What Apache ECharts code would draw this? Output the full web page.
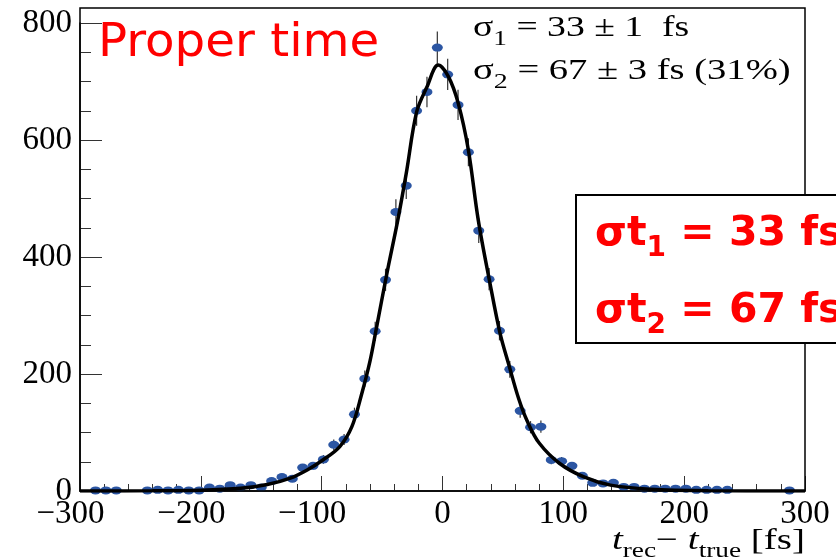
<!DOCTYPE html>
<html><head><meta charset="utf-8">
<script src="https://cdn.jsdelivr.net/npm/echarts@6/dist/echarts.min.js"></script>
<style>html,body{margin:0;padding:0;background:#fff}#c{width:836px;height:560px}</style>
</head><body><div id="c"></div>
<script>
// Histogram definition (70 bins from -300 to 300 fs)
const HIST_MIN = -300, HIST_MAX = 300, N_BINS = 70;
// Bin contents (null = empty bin, no marker drawn)
const counts = [
  null, 1, 1, 1, null, null, 1, 2, 1, 2,
  1, 1, 6, 4, 10, 6, 10, 6, 17, 24,
  21, 40, 43, 54, 79, 88, 131, 192, 273, 361,
  477, 522, 650, 682, 758, 712, 660, 579, 445, 362,
  274, 208, 137, 109, 110, 53, 51, 43, 26, 14,
  13, 14, 7, 7, 4, 4, 4, 4, 4, 2,
  2, 2, 2, null, null, null, null, null, 1, null
];
// Fit curve samples
const fitX = [-300, -240, -200, -167, -145, -126, -112, -99, -85, -75, -67, -60, -55, -46, -37, -30, -21.4, -13, -3.5, 5, 13, 21.4, 29.6, 39.3, 47.6, 55, 63, 70, 80, 97, 117, 139, 172, 220, 300];
const fitY = [0, 0.3, 1.2, 4.5, 11, 22, 36, 53, 76, 110, 165, 222, 275, 372, 463, 543, 648, 690, 728, 708, 663, 583, 463, 355, 270, 215, 158, 120, 82, 47, 24, 10, 3, 0.5, 0];
// Axis tick labels
const xTicks = [-300, -200, -100, 0, 100, 200, 300];
const yTicks = [0, 200, 400, 600, 800];

const binW = (HIST_MAX - HIST_MIN) / N_BINS;
const points = [];
counts.forEach((c, i) => { if (c !== null) points.push([HIST_MIN + binW * (i + 0.5), c]); });
const fitData = fitX.map((x, i) => [x, fitY[i]]);

const mctx = document.createElement('canvas').getContext('2d');
function fontStr(p) {
  return (p.italic ? 'italic ' : '') + (p.bold ? 'bold ' : '') + p.size + 'px "' + p.family + '"';
}
function textRun(pieces, x0, baseline, scaleX, z, anchor) {
  let x = 0; const children = [];
  pieces.forEach(p => {
    const f = fontStr(p);
    mctx.font = f; mctx.textBaseline = 'alphabetic';
    const m = mctx.measureText(p.t);
    const A = m.fontBoundingBoxAscent !== undefined ? m.fontBoundingBoxAscent : p.size * 0.9;
    const D = m.fontBoundingBoxDescent !== undefined ? m.fontBoundingBoxDescent : p.size * 0.22;
    const midOff = (A - D) / 2;
    children.push({
      type: 'text', x: x, y: (p.dy || 0) - midOff, silent: true, z: z,
      style: { text: p.t, font: f, fill: p.color || '#000', textAlign: 'left', verticalAlign: 'middle', textVerticalAlign: 'middle' }
    });
    x += m.width;
  });
  const left = anchor === 'right' ? x0 - x * scaleX : x0;
  return { type: 'group', x: left, y: baseline, scaleX: scaleX, scaleY: 1, children: children, z: z };
}
const SERIF = 'Liberation Serif', SANS = 'DejaVu Sans';
const labFont = 33;
const RED = '#ff0000';

const chart = echarts.init(document.getElementById('c'), null, { renderer: 'canvas' });
chart.setOption({
  animation: false,
  backgroundColor: '#fff',
  grid: { left: 80, right: 31, top: 23, bottom: 69, containLabel: false },
  xAxis: {
    type: 'value', min: xTicks[0], max: xTicks[xTicks.length - 1], interval: xTicks[1] - xTicks[0],
    axisLine: { show: true, onZero: false, lineStyle: { color: '#000', width: 1.5 } },
    axisTick: { show: true, inside: true, length: 15, lineStyle: { color: '#333', width: 1 } },
    minorTick: { show: true, splitNumber: 5, length: 7, lineStyle: { color: '#333', width: 1 } },
    splitLine: { show: false },
    axisLabel: {
      margin: 7,
      formatter: v => v < 0 ? '{n|\u2212' + Math.abs(v) + '}' : '{p|' + v + '}',
      rich: {
        n: { fontFamily: SERIF, fontSize: labFont, color: '#000', padding: [0, 19, 0, 0] },
        p: { fontFamily: SERIF, fontSize: labFont, color: '#000' }
      }
    }
  },
  yAxis: {
    type: 'value', min: yTicks[0], max: yTicks[yTicks.length - 1], interval: yTicks[1] - yTicks[0],
    axisLine: { show: true, onZero: false, lineStyle: { color: '#000', width: 1.5 } },
    axisTick: { show: true, inside: true, length: 22, lineStyle: { color: '#333', width: 1 } },
    minorTick: { show: true, splitNumber: 4, length: 11, lineStyle: { color: '#333', width: 1 } },
    splitLine: { show: false },
    axisLabel: { margin: 8, fontFamily: SERIF, fontSize: labFont, color: '#000' }
  },
  series: [
    {
      type: 'custom', data: points, encode: { x: 0, y: 1 }, z: 2, silent: true,
      renderItem: (params, api) => {
        const x = api.value(0), y = api.value(1), e = Math.sqrt(y);
        const p1 = api.coord([x, y - e]), p2 = api.coord([x, y + e]);
        return { type: 'line', shape: { x1: p1[0], y1: p1[1], x2: p2[0], y2: p2[1] }, style: { stroke: '#333', lineWidth: 1.2 } };
      }
    },
    {
      type: 'scatter', data: points, symbol: 'circle', symbolSize: [11, 8], z: 3, silent: true,
      itemStyle: { color: '#2c56a3', opacity: 1 }
    },
    {
      type: 'line', data: fitData, smooth: 0.35, showSymbol: false, z: 4, silent: true,
      lineStyle: { color: '#000', width: 3.5 }
    }
  ],
  graphic: [
    { type: 'rect', shape: { x: 80, y: 8, width: 725, height: 483 }, style: { fill: 'none', stroke: '#000', lineWidth: 1.5 }, z: 100, silent: true },
    textRun([{ t: 'Proper time', size: 46, family: SANS, color: RED }], 98, 60, 1.05, 110),
    textRun([
      { t: 'σ', size: 29, family: SERIF },
      { t: '1', size: 21, family: SERIF, dy: 8 },
      { t: ' = 33 ± 1  fs', size: 29, family: SERIF }
    ], 473, 38, 1.3, 110),
    textRun([
      { t: 'σ', size: 29, family: SERIF },
      { t: '2', size: 21, family: SERIF, dy: 8 },
      { t: ' = 67 ± 3 fs (31%)', size: 29, family: SERIF }
    ], 473, 81, 1.33, 110),
    textRun([
      { t: 't', size: 30, family: SERIF, italic: true },
      { t: 'rec', size: 21, family: SERIF, dy: 6 },
      { t: '\u2212 ', size: 30, family: SERIF },
      { t: 't', size: 30, family: SERIF, italic: true },
      { t: 'true', size: 21, family: SERIF, dy: 6 },
      { t: ' [fs]', size: 30, family: SERIF }
    ], 805, 552, 1.3, 110, 'right'),
    { type: 'rect', shape: { x: 576, y: 195, width: 280, height: 148 }, style: { fill: '#fff', stroke: '#000', lineWidth: 2 }, z: 120, silent: true },
    textRun([
      { t: 'σt', size: 41, family: SANS, bold: true, color: RED },
      { t: '1', size: 28, family: SANS, bold: true, color: RED, dy: 10 },
      { t: ' = 33 fs', size: 41, family: SANS, bold: true, color: RED }
    ], 595, 248, 1, 130),
    textRun([
      { t: 'σt', size: 41, family: SANS, bold: true, color: RED },
      { t: '2', size: 28, family: SANS, bold: true, color: RED, dy: 10 },
      { t: ' = 67 fs', size: 41, family: SANS, bold: true, color: RED }
    ], 595, 325, 1, 130)
  ]
});
</script></body></html>
